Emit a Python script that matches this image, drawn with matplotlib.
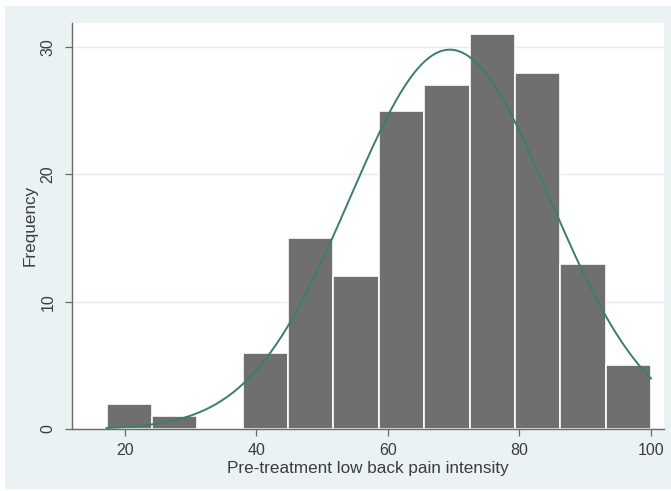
import numpy as np
import matplotlib
matplotlib.use("Agg")
import matplotlib.pyplot as plt
from matplotlib.patches import Rectangle

# histogram data
bin_start = 17.2
bin_width = 6.9
counts = [2, 1, 0, 6, 15, 12, 25, 27, 31, 28, 13, 5]

# normal overlay parameters
mean_val = 69.4
sd_val = 15.24

x_ticks = [20, 40, 60, 80, 100]
y_ticks = [0, 10, 20, 30]

plt.rcParams['font.family'] = ['Liberation Sans', 'DejaVu Sans']
text_col = '#3c3c3c'

fig = plt.figure(figsize=(6.71, 4.91), dpi=100)
fig.patch.set_facecolor('white')
# Stata-like light background panel
bg = Rectangle((5 / 671, 2 / 491), 666 / 671, 483 / 491,
               transform=fig.transFigure, facecolor='#eaf2f3',
               edgecolor='none', zorder=-5)
fig.add_artist(bg)

ax = fig.add_axes([72 / 671, 62 / 491, 592 / 671, 406.3 / 491])
ax.set_zorder(2)
ax.set_facecolor('white')

edges = bin_start + bin_width * np.arange(len(counts))
ax.bar(edges, counts, width=bin_width, align='edge', color='#6f6f6f',
       edgecolor='white', linewidth=1.2, zorder=2)

n = sum(counts)
xs = np.linspace(bin_start, bin_start + bin_width * len(counts), 300)
dens = n * bin_width / (sd_val * np.sqrt(2 * np.pi)) * np.exp(-0.5 * ((xs - mean_val) / sd_val) ** 2)
ax.plot(xs, dens, color='#3b7c73', linewidth=1.4, zorder=3)

ax.set_xlim(11.94, 101.98)
ax.set_ylim(0, 31.92)
ax.set_xticks(x_ticks)
ax.set_yticks(y_ticks)
ax.grid(axis='y', color='#e4ecee', linewidth=1, zorder=0)
ax.set_axisbelow(True)

for s in ['top', 'right']:
    ax.spines[s].set_visible(False)
for s in ['left', 'bottom']:
    ax.spines[s].set_color('#6a6a6a')
    ax.spines[s].set_linewidth(1)

ax.tick_params(axis='both', direction='out', length=5, width=0.9,
               color='#6a6a6a', labelsize=11.5, labelcolor=text_col)
ax.tick_params(axis='x', pad=5)
ax.tick_params(axis='y', pad=7)
for lab in ax.get_yticklabels():
    lab.set_rotation(90)
    lab.set_va('center')

ax.set_xlabel('Pre-treatment low back pain intensity', fontsize=12.3,
              color=text_col, labelpad=2)
ax.set_ylabel('Frequency', fontsize=12.3, color=text_col, labelpad=2)

fig.savefig('out.png', dpi=100, facecolor=fig.get_facecolor())
